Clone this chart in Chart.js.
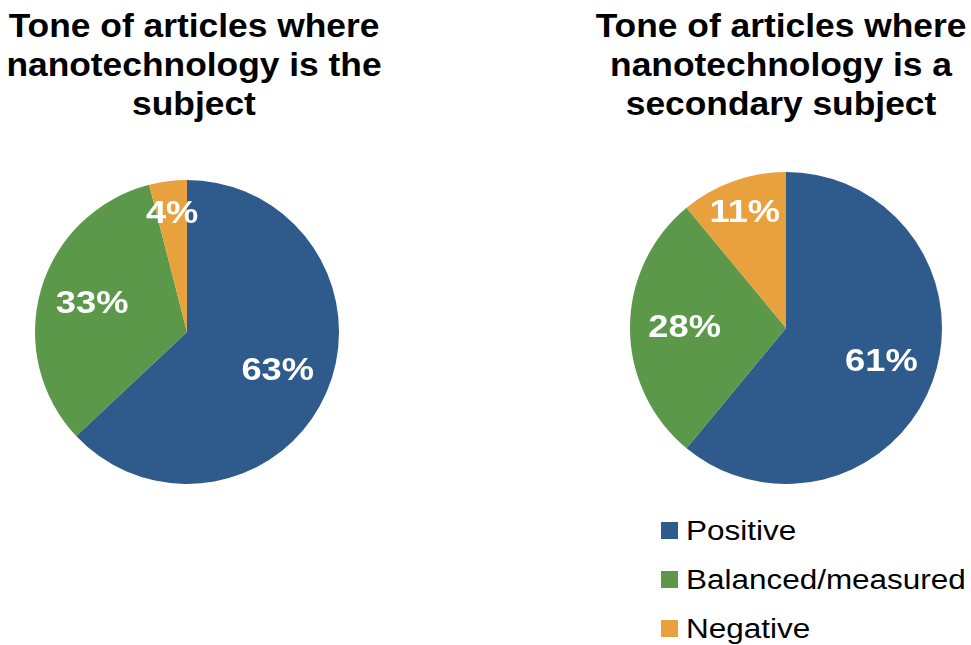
<!DOCTYPE html>
<html>
<head>
<meta charset="utf-8">
<script src="https://cdn.jsdelivr.net/npm/chart.js@4/dist/chart.umd.min.js"></script>
<style>
  body { margin: 0; background: #fff; width: 971px; height: 645px; position: relative; overflow: hidden;
         font-family: "Liberation Sans", Arial, sans-serif; }
  .title { position: absolute; top: 6px; width: 400px; text-align: center; font-weight: bold; font-size: 34px;
           line-height: 39px; color: #000; transform: scaleX(1.04); transform-origin: center top; white-space: nowrap; }
  .wrap { position: absolute; }
  #legend { position: absolute; left: 661px; top: 507px; font-size: 27px; line-height: 49px; color: #000; }
  #legend .row { position: relative; height: 49px; }
  #legend .box { position: absolute; left: 0; top: 15px; width: 17px; height: 17px; }
  #legend .txt { position: absolute; left: 25px; top: 0; white-space: nowrap;
                 transform: scaleX(1.165); transform-origin: left top; }
</style>
</head>
<body>
<div class="title" style="left:-6px">Tone of articles where<br>nanotechnology is the<br>subject</div>
<div class="title" style="left:581px">Tone of articles where<br>nanotechnology is a<br>secondary subject</div>

<div class="wrap" style="left:35px;top:180px;width:304px;height:304px"><canvas id="chart1"></canvas></div>
<div class="wrap" style="left:630px;top:172px;width:312px;height:312px"><canvas id="chart2"></canvas></div>
<div id="legend"></div>

<script>
var tones = ['Positive', 'Balanced/measured', 'Negative'];
var toneColors = ['#2E5A8C', '#5B984A', '#E8A13D'];
var mainSubject = [63, 33, 4];
var secondarySubject = [61, 28, 11];

// white percentage labels inside each slice; thin slices get pushed outwards a bit
var sliceLabels = {
    id: 'sliceLabels',
    afterDatasetsDraw: function(chart) {
        var ctx = chart.ctx;
        var data = chart.data.datasets[0].data;
        var total = data.reduce(function(a, b) { return a + b; }, 0);
        chart.getDatasetMeta(0).data.forEach(function(arc, i) {
            var p = arc.getProps(['x', 'y', 'startAngle', 'endAngle', 'outerRadius'], true);
            var mid = (p.startAngle + p.endAngle) / 2;
            var frac = data[i] / total < 0.15 ? 0.78 : 0.65;
            var r = p.outerRadius * frac;
            ctx.save();
            ctx.translate(p.x + Math.cos(mid) * r, p.y + Math.sin(mid) * r);
            ctx.scale(1.17, 1);
            ctx.fillStyle = '#fff';
            ctx.font = 'bold 31px "Liberation Sans", Arial, sans-serif';
            ctx.textAlign = 'center';
            ctx.textBaseline = 'middle';
            ctx.fillText(data[i] + '%', 0, 0);
            ctx.restore();
        });
    }
};

function makePie(id, values) {
    return new Chart(document.getElementById(id), {
        type: 'pie',
        data: {
            labels: tones,
            datasets: [{ data: values, backgroundColor: toneColors, borderWidth: 0 }]
        },
        options: {
            responsive: true,
            maintainAspectRatio: false,
            animation: false,
            layout: { padding: 0 },
            plugins: { legend: { display: false }, tooltip: { enabled: false } }
        },
        plugins: [sliceLabels]
    });
}

makePie('chart1', mainSubject);
makePie('chart2', secondarySubject);

var legend = document.getElementById('legend');
tones.forEach(function(t, i) {
    var row = document.createElement('div');
    row.className = 'row';
    row.innerHTML = '<span class="box" style="background:' + toneColors[i] + '"></span><span class="txt">' + t + '</span>';
    legend.appendChild(row);
});
</script>
</body>
</html>
